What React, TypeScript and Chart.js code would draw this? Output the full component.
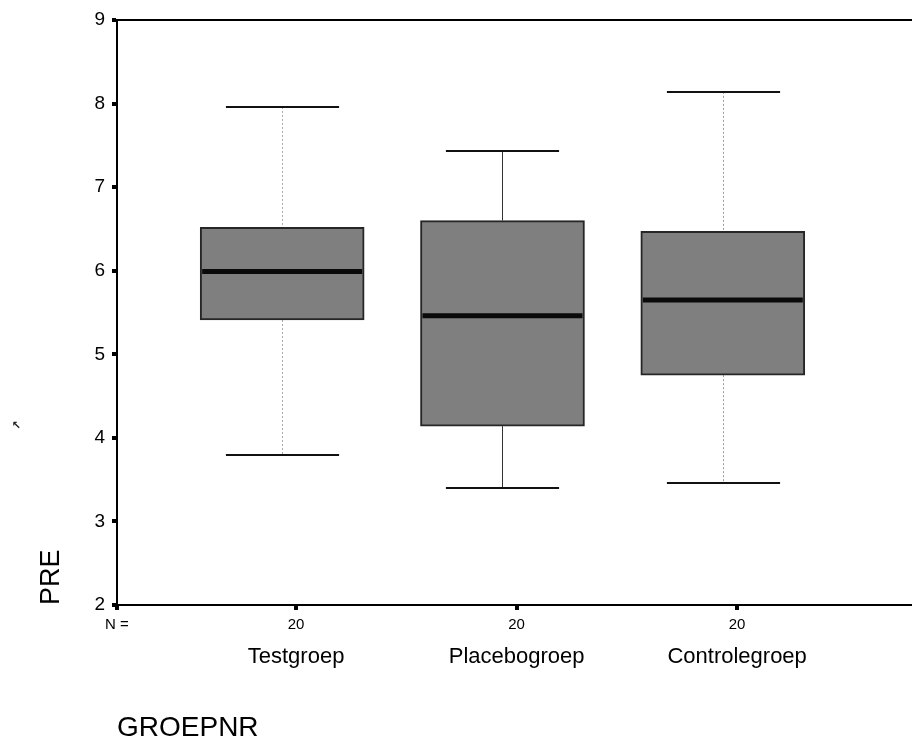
import React, { useEffect, useRef } from 'react';
import { Chart, registerables } from 'chart.js';

Chart.register(...registerables);

// ---- data ----
const categories = ['Testgroep', 'Placebogroep', 'Controlegroep'];
const nCounts = ['20', '20', '20'];
const labelX = [1, 2, 3];
const groupX = [0.937, 1.936, 2.935];
const whiskerMin = [3.79, 3.4, 3.46];
const q1 = [5.41, 4.14, 4.75];
const median = [5.99, 5.46, 5.65];
const q3 = [6.52, 6.6, 6.47];
const whiskerMax = [7.96, 7.43, 8.14];
const yTicks = [2, 3, 4, 5, 6, 7, 8, 9];
const nLabel = 'N =';
const yTitle = 'PRE';
const xTitle = 'GROEPNR';

const X_MIN = 0.188;
const X_MAX = 3.793;
const FONT = 'Arial, "Liberation Sans", Helvetica, sans-serif';

const stemColors = ['#a8a8a8', '#333333', '#9a9a9a'];
const stemDash = [[2, 2], [], [2, 2]];

const boxDecor = {
  id: 'boxDecor',
  beforeDatasetsDraw(chart: any) {
    const { ctx, scales } = chart;
    const x = scales.x;
    const y = scales.y;
    const meta = chart.getDatasetMeta(0);
    ctx.save();
    groupX.forEach((p, i) => {
      const cx = Math.round(x.getPixelForValue(p)) + 0.5;
      const el = meta.data[i];
      const capHalf = (el ? el.width : 164) * 0.345;
      // stems
      ctx.strokeStyle = stemColors[i];
      ctx.lineWidth = 1;
      ctx.setLineDash(stemDash[i]);
      ctx.beginPath();
      ctx.moveTo(cx, y.getPixelForValue(whiskerMax[i]));
      ctx.lineTo(cx, y.getPixelForValue(q3[i]));
      ctx.moveTo(cx, y.getPixelForValue(q1[i]));
      ctx.lineTo(cx, y.getPixelForValue(whiskerMin[i]));
      ctx.stroke();
      // caps
      ctx.setLineDash([]);
      ctx.strokeStyle = '#111111';
      ctx.lineWidth = 2;
      ctx.beginPath();
      const yt = Math.round(y.getPixelForValue(whiskerMax[i]));
      const yb = Math.round(y.getPixelForValue(whiskerMin[i]));
      ctx.moveTo(cx - capHalf, yt);
      ctx.lineTo(cx + capHalf, yt);
      ctx.moveTo(cx - capHalf, yb);
      ctx.lineTo(cx + capHalf, yb);
      ctx.stroke();
    });
    ctx.restore();
  },
  afterDatasetsDraw(chart: any) {
    const { ctx, scales } = chart;
    const y = scales.y;
    const meta = chart.getDatasetMeta(0);
    ctx.save();
    ctx.strokeStyle = '#0a0a0a';
    ctx.lineWidth = 5;
    groupX.forEach((_p, i) => {
      const el = meta.data[i];
      if (!el) return;
      const ym = y.getPixelForValue(median[i]);
      ctx.beginPath();
      ctx.moveTo(el.x - el.width / 2 + 2, ym);
      ctx.lineTo(el.x + el.width / 2 - 2, ym);
      ctx.stroke();
    });
    ctx.restore();
  },
  afterDraw(chart: any) {
    const { ctx } = chart;
    ctx.save();
    ctx.fillStyle = '#222';
    ctx.font = 'bold 11px "DejaVu Sans"';
    ctx.textAlign = 'center';
    ctx.textBaseline = 'middle';
    ctx.fillText('↖', 16, 426);
    ctx.restore();
  },
};

export default function App() {
  const ref = useRef<HTMLCanvasElement | null>(null);

  useEffect(() => {
    document.body.style.margin = '0';
    const canvas = ref.current;
    if (!canvas) return;
    const chart = new Chart(canvas, {
      type: 'bar',
      data: {
        datasets: [
          {
            data: groupX.map((p, i) => ({ x: p, y: [q1[i], q3[i]] })) as any,
            backgroundColor: '#7f7f7f',
            borderColor: '#262626',
            borderWidth: 2,
            borderSkipped: false,
            barThickness: 164,
          },
        ],
      },
      options: {
        responsive: false,
        animation: false,
        events: [],
        layout: { padding: 0 },
        plugins: {
          legend: { display: false },
          tooltip: { enabled: false },
        },
        scales: {
          xtop: {
            type: 'linear',
            position: 'top',
            offset: false,
            min: X_MIN,
            max: X_MAX,
            ticks: { display: false },
            grid: { display: false, offset: false },
            border: { display: true, color: '#000', width: 2 },
            afterFit: (s: any) => {
              s.height = 20;
            },
          },
          x: {
            type: 'linear',
            position: 'bottom',
            offset: false,
            weight: 0,
            min: X_MIN,
            max: X_MAX,
            afterBuildTicks: (s: any) => {
              s.ticks = [X_MIN, ...labelX].map((v) => ({ value: v }));
            },
            ticks: {
              autoSkip: false,
              maxRotation: 0,
              padding: 6,
              color: '#000',
              font: { family: FONT, size: 15 },
              callback: (_v: any, i: number) => (i === 0 ? nLabel : nCounts[i - 1]),
            },
            grid: {
              display: true,
              offset: false,
              drawOnChartArea: false,
              drawTicks: true,
              tickLength: 5,
              lineWidth: 4,
              color: '#000',
            },
            border: { display: true, color: '#000', width: 2 },
            afterFit: (s: any) => {
              s.height = 30;
            },
          },
          xcat: {
            type: 'linear',
            position: 'bottom',
            offset: false,
            weight: 1,
            min: X_MIN,
            max: X_MAX,
            afterBuildTicks: (s: any) => {
              s.ticks = labelX.map((v) => ({ value: v }));
            },
            ticks: {
              autoSkip: false,
              maxRotation: 0,
              padding: 9,
              color: '#000',
              font: { family: FONT, size: 22 },
              callback: (_v: any, i: number) => categories[i],
            },
            grid: { display: false, offset: false, drawTicks: false },
            border: { display: false },
            title: {
              display: true,
              text: xTitle,
              align: 'start',
              color: '#000',
              font: { family: FONT, size: 28, lineHeight: 1 },
              padding: { top: 0, bottom: 0 },
            },
            afterFit: (s: any) => {
              s.height = 107;
            },
          },
          y: {
            type: 'linear',
            position: 'left',
            min: 2,
            max: 9,
            afterBuildTicks: (s: any) => {
              s.ticks = yTicks.map((v) => ({ value: v }));
            },
            ticks: {
              padding: 7,
              color: '#000',
              font: { family: FONT, size: 19 },
            },
            grid: {
              display: true,
              drawOnChartArea: false,
              drawTicks: true,
              tickLength: 5,
              lineWidth: 4,
              color: '#000',
            },
            border: { display: true, color: '#000', width: 2 },
            title: {
              display: true,
              text: yTitle,
              align: 'start',
              color: '#000',
              font: { family: FONT, size: 27 },
              padding: { top: 35, bottom: 0 },
            },
            afterFit: (s: any) => {
              s.width = 117;
            },
          },
        },
      } as any,
      plugins: [boxDecor],
    });
    return () => chart.destroy();
  }, []);

  return (
    <div style={{ width: 912, height: 742, background: '#fff' }}>
      <canvas ref={ref} width={912} height={742} style={{ display: 'block' }} />
    </div>
  );
}
